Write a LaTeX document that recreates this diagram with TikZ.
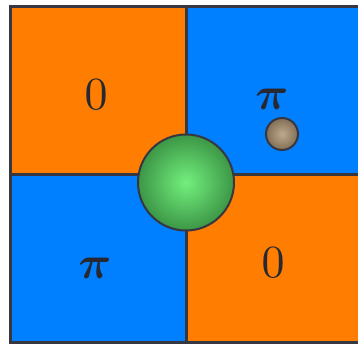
\documentclass[tikz,border=0pt]{standalone}
\begin{document}
\begin{tikzpicture}[x=1pt,y=-1pt,
  border/.style={draw=linegray,line width=3pt},
  lbl/.style={text=txtgray,inner sep=0pt}]
\definecolor{org}{RGB}{255,125,0}
\definecolor{blu}{RGB}{0,127,255}
\definecolor{linegray}{RGB}{55,55,65}
\definecolor{txtgray}{RGB}{40,40,50}
\useasboundingbox (0,0) rectangle (358,343);
\fill[white] (0,0) rectangle (358,343);
\clip (0,0) rectangle (358,343);
\fill[org] (10,6) rectangle (186,174);
\fill[blu] (186,6) rectangle (365,174);
\fill[blu] (10,174) rectangle (186,342);
\fill[org] (186,174) rectangle (365,342);
\draw[border] (10,6) rectangle (365,342);
\draw[border] (186,6) -- (186,342);
\draw[border] (10,174) -- (365,174);
\node[lbl] (a) at (96,95) {\scalebox{4.6}{$0$}};
\node[lbl] (b) at (272,99) {\scalebox{4.6}{\boldmath$\pi$}};
\node[lbl] (c) at (95,268) {\scalebox{4.6}{\boldmath$\pi$}};
\node[lbl] (d) at (273,263) {\scalebox{4.6}{$0$}};
\shade[inner color={rgb,255:red,115;green,240;blue,125},outer color={rgb,255:red,60;green,150;blue,70},draw=linegray,line width=2pt] (186,182.5) circle (48);
\shade[inner color={rgb,255:red,190;green,170;blue,140},outer color={rgb,255:red,130;green,110;blue,85},draw=linegray,line width=2pt] (282,134) circle (16);
\end{tikzpicture}
\end{document}
